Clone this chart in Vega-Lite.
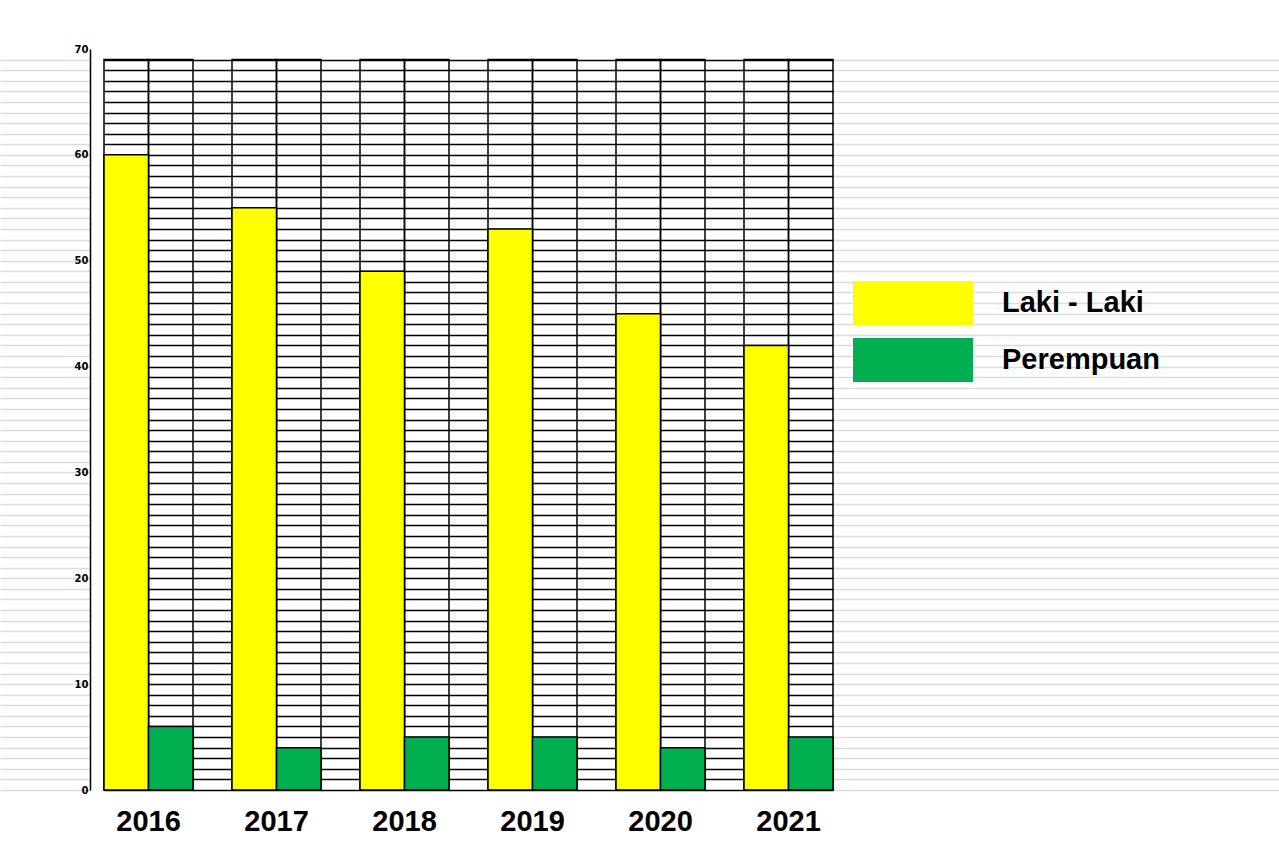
{
  "$schema": "https://vega.github.io/schema/vega-lite/v6.json",
  "autosize": {"type": "none"},
  "padding": {"left": 104, "top": 49, "right": 446, "bottom": 68},
  "width": 729,
  "height": 741,
  "background": "white",
  "config": {"view": {"stroke": null}},
  "data": {
    "values": [
      {"tahun": "2016", "jenis": "Laki - Laki", "jumlah": 60},
      {"tahun": "2016", "jenis": "Perempuan", "jumlah": 6},
      {"tahun": "2017", "jenis": "Laki - Laki", "jumlah": 55},
      {"tahun": "2017", "jenis": "Perempuan", "jumlah": 4},
      {"tahun": "2018", "jenis": "Laki - Laki", "jumlah": 49},
      {"tahun": "2018", "jenis": "Perempuan", "jumlah": 5},
      {"tahun": "2019", "jenis": "Laki - Laki", "jumlah": 53},
      {"tahun": "2019", "jenis": "Perempuan", "jumlah": 5},
      {"tahun": "2020", "jenis": "Laki - Laki", "jumlah": 45},
      {"tahun": "2020", "jenis": "Perempuan", "jumlah": 4},
      {"tahun": "2021", "jenis": "Laki - Laki", "jumlah": 42},
      {"tahun": "2021", "jenis": "Perempuan", "jumlah": 5}
    ]
  },
  "encoding": {
    "x": {
      "field": "tahun", "type": "nominal",
      "scale": {"type": "band", "paddingInner": 0.3047, "paddingOuter": 0},
      "axis": {
        "title": null, "domain": false, "ticks": false, "tickSize": 0, "grid": false,
        "labelAngle": 0, "labelFont": "Liberation Sans", "labelFontWeight": "bold",
        "labelFontSize": 29, "labelColor": "black", "labelPadding": 17
      }
    },
    "xOffset": {
      "field": "jenis", "type": "nominal",
      "scale": {"domain": ["Laki - Laki", "Perempuan"], "paddingInner": 0, "paddingOuter": 0}
    }
  },
  "resolve": {"axis": {"y": "independent"}},
  "layer": [
    {
      "mark": {"type": "bar", "fill": "transparent", "stroke": "black", "strokeWidth": 1.5},
      "encoding": {
        "y": {
          "datum": 0, "type": "quantitative",
          "axis": {
            "title": null, "orient": "right", "offset": 0,
            "domain": false, "labels": false, "grid": false,
            "ticks": true, "tickSize": 450, "tickWidth": 1.5, "tickColor": "#dcdcdc",
            "tickCount": 200,
            "values": [0,1,2,3,4,5,6,7,8,9,10,11,12,13,14,15,16,17,18,19,20,21,22,23,24,25,26,27,28,29,30,31,32,33,34,35,36,37,38,39,40,41,42,43,44,45,46,47,48,49,50,51,52,53,54,55,56,57,58,59,60,61,62,63,64,65,66,67,68,69]
          }
        },
        "y2": {"datum": 69}
      }
    },
    {
      "mark": {"type": "bar", "stroke": "black", "strokeWidth": 1.5},
      "encoding": {
        "y": {
          "field": "jumlah", "type": "quantitative",
          "scale": {"domain": [0, 70], "nice": false, "zero": true},
          "axis": {
            "title": null, "orient": "left", "offset": 14,
            "domain": true, "domainColor": "black", "domainWidth": 1.5,
            "ticks": true, "tickSize": 90, "tickWidth": 1.5,
            "tickColor": {"condition": {"test": "datum.value === 70", "value": "transparent"}, "value": "#dcdcdc"},
            "tickCount": 200,
            "values": [0,1,2,3,4,5,6,7,8,9,10,11,12,13,14,15,16,17,18,19,20,21,22,23,24,25,26,27,28,29,30,31,32,33,34,35,36,37,38,39,40,41,42,43,44,45,46,47,48,49,50,51,52,53,54,55,56,57,58,59,60,61,62,63,64,65,66,67,68,69,70],
            "format": "d",
            "labelExpr": "datum.value % 10 === 0 ? datum.label : ''",
            "labelOverlap": false, "labelFlush": false,
            "labelFont": "DejaVu Sans", "labelFontWeight": "bold", "labelFontSize": 10,
            "labelColor": "black", "labelPadding": -88,
            "grid": true, "gridWidth": 1.5,
            "gridColor": {"condition": {"test": "datum.value === 70", "value": "transparent"}, "value": "black"},
            "gridOpacity": 1
          }
        },
        "color": {
          "field": "jenis", "type": "nominal",
          "scale": {"domain": ["Laki - Laki", "Perempuan"], "range": ["#FFFF00", "#00B050"]},
          "legend": {
            "title": null, "orient": "none", "legendX": 749, "legendY": 232,
            "padding": 0,
            "symbolType": "M-1,-1H4.4545V1H-1Z",
            "symbolSize": 1936, "symbolStrokeWidth": 0, "symbolOpacity": 1,
            "rowPadding": 13, "labelOffset": 105,
            "labelFont": "Liberation Sans", "labelFontWeight": "bold", "labelFontSize": 29,
            "labelColor": "black", "labelBaseline": "middle", "labelLimit": 400
          }
        }
      }
    }
  ]
}
